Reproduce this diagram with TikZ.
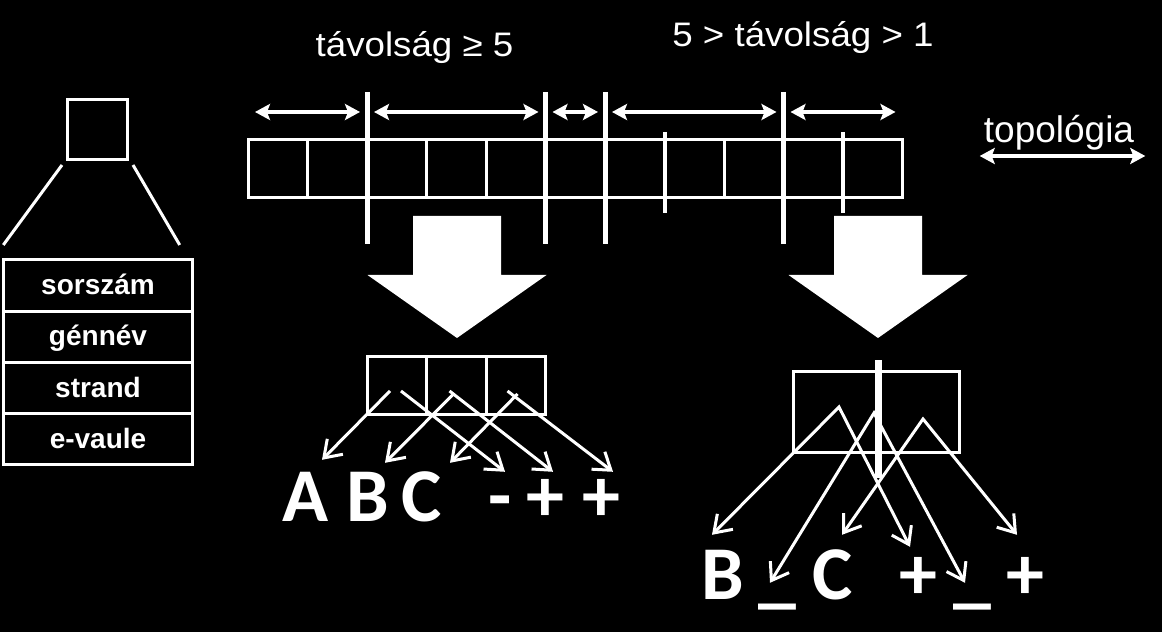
\documentclass[tikz,border=0pt]{standalone}
\usepackage{fontspec}
\setmainfont{Liberation Sans}
\newfontfamily\widefont[FakeStretch=1.08]{Liberation Sans}
\newfontfamily\letterfont{Carlito}
\usetikzlibrary{arrows.meta,positioning,calc}

\begin{document}
\begin{tikzpicture}[
    x=1pt, y=1pt, white,
    cell/.style={draw, line width=3pt, minimum width=59.5pt, minimum height=58pt, inner sep=0pt, outer sep=0pt},
    rowbox/.style={draw, line width=3pt, minimum width=189.4pt, minimum height=51.25pt, inner sep=0pt, outer sep=0pt, text height=18pt, text depth=0pt, font=\bfseries\fontsize{28}{30}\selectfont},
    divider/.style={line width=5pt},
    notch/.style={line width=4pt},
    span/.style={line width=4pt, {Stealth[length=15pt,width=16pt,inset=3pt]}-{Stealth[length=15pt,width=16pt,inset=3pt]}},
    readarrow/.style={line width=3pt, -{Straight Barb[length=16pt,width=22pt,line width=3pt]}},
    caret/.style={line width=3pt, line join=miter, {Straight Barb[length=16pt,width=22pt,line width=3pt]}-{Straight Barb[length=16pt,width=22pt,line width=3pt]}},
    letter/.style={font=\letterfont\bfseries\fontsize{76}{76}\selectfont, inner sep=0pt, text height=47pt, text depth=0pt, anchor=base},
    spanlabel/.style={font=\widefont\fontsize{34}{40}\selectfont, inner sep=0pt, anchor=base}
]
    \fill[black] (0,0) rectangle (1162,632);
    \useasboundingbox (0,0) rectangle (1162,632);

    % record and its fields
    \node[draw, line width=3pt, minimum size=60pt, inner sep=0pt, outer sep=0pt] (rec) at (97,502) {};
    \node[rowbox] (r1) at (98,346.4) {sorszám};
    \node[rowbox, below=0pt of r1] (r2) {génnév};
    \node[rowbox, below=0pt of r2] (r3) {strand};
    \node[rowbox, below=0pt of r3] (r4) {e-vaule};
    \draw[line width=3pt] ($(rec.south west)+(-5,-5)$) -- ($(r1.north west)+(0,15)$);
    \draw[line width=3pt] ($(rec.south east)+(6,-5)$) -- ($(r1.north east)+(-13,15)$);

    % the gene strip
    \node[cell] (c1) at (277.75,463) {};
    \foreach \i [count=\j from 2] in {1,...,10}
        \node[cell, right=0pt of c\i] (c\j) {};
    \foreach \c in {c2,c5,c6,c9}
        \draw[divider] ($(\c.north east)+(0,48)$) -- ($(\c.south east)+(0,-46)$);
    \foreach \c in {c7,c10}
        \draw[notch] ($(\c.north east)+(0,8)$) -- ($(\c.south east)+(0,-15)$);
    \foreach \a/\b in {c1/c2,c3/c5,c6/c6,c7/c9,c10/c11}
        \draw[span] ($(\a.north west)+(7,28)$) -- ($(\b.north east)+(-7,28)$);

    \node[spanlabel] (far) at (414.5,575) {távolság ≥ 5};
    \node[spanlabel] (near) at (803,585) {5 > távolság > 1};

    % topology axis
    \node[font=\fontsize{37}{40}\selectfont, inner sep=0pt, anchor=base] (topo) at (1059,489) {topológia};
    \draw[span] ($(topo.base west)+(-4,-13)$) -- ($(topo.base east)+(11,-13)$);

    % big arrows
    \foreach \x in {457,878}
        \fill (\x-44,416) -- ++(88,0) -- ++(0,-59) -- ++(45.5,0) -- (\x,294) -- (\x-89.5,357) -- ++(45.5,0) -- cycle;

    % left result
    \node[cell] (b1) at (397,246) {};
    \node[cell, right=0pt of b1] (b2) {};
    \node[cell, right=0pt of b2] (b3) {};
    \node[letter] (lA) at (306,110) {A};
    \node[letter] (lB) at (368,110) {B};
    \node[letter] (lC) at (422,110) {C};
    \node[letter] (lm) at (500,110) {-};
    \node[letter] (lp1) at (545,110) {+};
    \node[letter] (lp2) at (601,110) {+};
    \draw[readarrow] ($(b1)+(-7,-5)$) -- ($(lA.north)+(16,15)$);
    \draw[readarrow] ($(b1)+(4,-5)$) -- ($(lm.north)+(5,3)$);
    \draw[readarrow] ($(b2)+(-4,-9)$) -- ($(lB.north)+(17,12)$);
    \draw[readarrow] ($(b2)+(-7,-5)$) -- ($(lp1.north)+(8,3)$);
    \draw[readarrow] ($(b3)+(1.5,-8)$) -- ($(lC.north)+(28,12)$);
    \draw[readarrow] ($(b3)+(-8.5,-5)$) -- ($(lp2.north)+(12,3)$);

    % right result
    \node[draw, line width=3pt, minimum width=166pt, minimum height=81pt, inner sep=0pt] (rbox) at (876,219.5) {};
    \node[letter] (rB) at (722.5,32) {B};
    \node[letter] (ru1) at (777.5,32) {\_};
    \node[letter] (rC) at (833,32) {C};
    \node[letter] (rp1) at (918.5,32) {+};
    \node[letter] (ru2) at (972,32) {\_};
    \node[letter] (rp2) at (1025,32) {+};
    \draw[caret] ($(rB.north)+(-10.5,18)$) -- ($(rbox)+(-37,5.5)$) -- ($(rp1.north)+(-8.5,6)$);
    \draw[caret] ($(ru1.north)+(-7.5,-30)$) -- ($(rbox)+(-2,-0.5)$) -- ($(ru2.north)+(-7,-30)$);
    \draw[caret] ($(rC.north)+(9,18)$) -- ($(rbox)+(47,-6.5)$) -- ($(rp2.north)+(-8,18)$);
    \draw[line width=7pt] ($(rbox.north)+(2,10)$) -- ($(rbox.south)+(2,-24)$);
\end{tikzpicture}
\end{document}
